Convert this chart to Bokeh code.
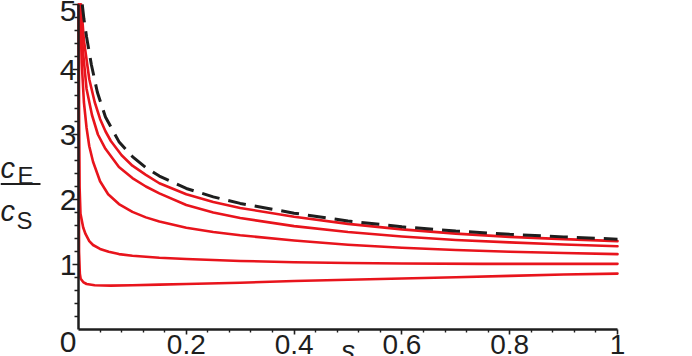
from bokeh.plotting import figure
from bokeh.models import Range1d, FixedTicker, Label, BoxAnnotation
from bokeh.embed import file_html
from bokeh.resources import INLINE

# ---------------- data ----------------
s_dash = [0.007, 0.01, 0.015, 0.024, 0.035, 0.05, 0.075, 0.1, 0.125, 0.15, 0.2, 0.25, 0.3, 0.4, 0.5, 0.6, 0.7, 0.8, 0.9, 1.0]
r_dash = [5.0, 4.78, 4.5, 4.07, 3.65, 3.27, 2.89, 2.66, 2.49, 2.36, 2.17, 2.04, 1.94, 1.79, 1.67, 1.58, 1.515, 1.465, 1.425, 1.39]

s_r1 = [0.005, 0.01, 0.02, 0.03, 0.04, 0.05, 0.06, 0.08, 0.1, 0.125, 0.15, 0.2, 0.25, 0.3, 0.4, 0.5, 0.6, 0.7, 0.8, 0.9, 1.0]
r_r1 = [5.0, 4.45, 3.85, 3.5, 3.24, 3.05, 2.9, 2.68, 2.52, 2.38, 2.25, 2.08, 1.96, 1.87, 1.735, 1.625, 1.54, 1.475, 1.425, 1.39, 1.36]

s_r2 = [0.004, 0.008, 0.015, 0.025, 0.036, 0.05, 0.075, 0.1, 0.125, 0.15, 0.2, 0.25, 0.3, 0.4, 0.5, 0.6, 0.7, 0.8, 0.9, 1.0]
r_r2 = [5.0, 4.3, 3.7, 3.3, 3.0, 2.78, 2.5, 2.33, 2.2, 2.095, 1.915, 1.80, 1.715, 1.59, 1.5, 1.43, 1.378, 1.34, 1.308, 1.28]

s_r3 = [0.003, 0.006, 0.01, 0.015, 0.02, 0.027, 0.04, 0.055, 0.075, 0.1, 0.125, 0.15, 0.2, 0.25, 0.3, 0.4, 0.5, 0.6, 0.7, 0.8, 0.9, 1.0]
r_r3 = [5.0, 4.1, 3.5, 3.1, 2.82, 2.58, 2.28, 2.08, 1.93, 1.81, 1.725, 1.66, 1.565, 1.5, 1.45, 1.37, 1.305, 1.258, 1.222, 1.197, 1.177, 1.16]

s_r4 = [0.0005, 0.001, 0.002, 0.0037, 0.0087, 0.013, 0.02, 0.027, 0.04, 0.056, 0.075, 0.1, 0.15, 0.2, 0.3, 0.4, 0.5, 0.6, 0.75, 0.9, 1.0]
r_r4 = [5.0, 3.2, 2.2, 1.78, 1.57, 1.47, 1.36, 1.30, 1.24, 1.195, 1.16, 1.135, 1.105, 1.085, 1.055, 1.035, 1.022, 1.015, 1.01, 1.01, 1.01]

s_r5 = [0.0003, 0.001, 0.0025, 0.004, 0.0087, 0.015, 0.03, 0.06, 0.1, 0.15, 0.2, 0.3, 0.4, 0.5, 0.6, 0.7, 0.8, 0.9, 1.0]
r_r5 = [5.0, 1.2, 0.86, 0.78, 0.73, 0.70, 0.68, 0.675, 0.68, 0.69, 0.70, 0.72, 0.745, 0.765, 0.785, 0.805, 0.825, 0.845, 0.86]

x_ticks = [0.2, 0.4, 0.6, 0.8, 1.0]
x_tick_labels = ["0.2", "0.4", "0.6", "0.8", "1"]
x_minor = [0.04, 0.08, 0.12, 0.16, 0.24, 0.28, 0.32, 0.36, 0.44, 0.48, 0.52, 0.56,
           0.64, 0.68, 0.72, 0.76, 0.84, 0.88, 0.92, 0.96]
y_ticks = [1, 2, 3, 4, 5]
y_tick_labels = ["1", "2", "3", "4", "5"]
y_minor = [0.2, 0.4, 0.6, 0.8, 1.2, 1.4, 1.6, 1.8, 2.2, 2.4, 2.6, 2.8,
           3.2, 3.4, 3.6, 3.8, 4.2, 4.4, 4.6, 4.8]

# ---------------- layout ----------------
W, H = 692, 356
X0_PX, X1_PX = 78.0, 617.0     # px of s = 0 and s = 1
Y0_PX, Y5_PX = 329.0, 4.0      # px of ratio = 0 and ratio = 5
SX = (X1_PX - X0_PX) / 1.0
SY = (Y0_PX - Y5_PX) / 5.0


def cx(px):
    return (px - X0_PX) / SX


def cy(py):
    return (Y0_PX - py) / SY


FONT = "Liberation Sans"
RED = "#e8141c"
INK = "#1e1e1e"

p = figure(width=W, height=H, output_backend="svg", toolbar_location=None,
           x_range=Range1d(cx(0), cx(W)), y_range=Range1d(cy(H), cy(0)),
           min_border=0, min_border_left=0, min_border_right=0,
           min_border_top=0, min_border_bottom=0)
p.outline_line_color = None
p.grid.visible = False
p.background_fill_color = "white"
p.border_fill_color = "white"

for s, r in [(s_r5, r_r5), (s_r4, r_r4), (s_r3, r_r3), (s_r2, r_r2), (s_r1, r_r1)]:
    p.line(s, r, line_color=RED, line_width=2.6, line_join="round", line_cap="round")
p.line(s_dash, r_dash, line_color=INK, line_width=3, line_dash="18 9")

# axes through the origin
xa = p.xaxis[0]
ya = p.yaxis[0]
xa.fixed_location = 0
ya.fixed_location = 0
xa.bounds = (0, 1)
ya.bounds = (0, 5)
xa.ticker = FixedTicker(ticks=x_ticks, minor_ticks=x_minor)
ya.ticker = FixedTicker(ticks=y_ticks, minor_ticks=y_minor)
xa.major_label_overrides = {t: l for t, l in zip(x_ticks, x_tick_labels)}
ya.major_label_overrides = {t: l for t, l in zip(y_ticks, y_tick_labels)}
for ax in (xa, ya):
    ax.axis_line_color = INK
    ax.axis_line_width = 2.5
    ax.major_tick_line_color = INK
    ax.minor_tick_line_color = INK
    ax.major_tick_line_width = 1.6
    ax.minor_tick_line_width = 1.4
    ax.major_tick_in = 0
    ax.minor_tick_in = 0
    ax.major_label_text_font = FONT
    ax.major_label_text_color = INK
xa.major_tick_out = 5
xa.minor_tick_out = 3
xa.major_label_standoff = 0
xa.major_label_text_font_size = "28px"
ya.major_tick_out = 6
ya.minor_tick_out = 4
ya.major_label_standoff = -4
ya.major_label_text_font_size = "30px"

# origin label
p.add_layout(Label(x=0, y=0, text="0", x_offset=-2, y_offset=-12.5, text_align="right",
                   text_baseline="middle", text_font=FONT, text_font_size="30px",
                   text_color=INK))

# x axis title "s"
p.add_layout(Label(x=0.5, y=0, text="s", y_offset=-5, text_align="center",
                   text_baseline="top", text_font=FONT, text_font_style="italic",
                   text_font_size="28px", text_color=INK))


# y axis title: c_E / c_S
def lab(txt, px, py, size, style="normal"):
    p.add_layout(Label(x=cx(px), y=cy(py), text=txt, text_align="left",
                       text_baseline="alphabetic", text_font=FONT,
                       text_font_style=style, text_font_size=size, text_color=INK))


lab("c", 0, 167, "29px", "italic")
lab("E", 17, 175, "24px")
lab("c", 0, 210, "29px", "italic")
lab("S", 16, 220, "24px")
p.add_layout(BoxAnnotation(left=cx(0), right=cx(40), top=cy(182.5), bottom=cy(184.5),
                           fill_color=INK, fill_alpha=1, line_color=None))

open("out.html", "w").write(file_html(p, INLINE))
